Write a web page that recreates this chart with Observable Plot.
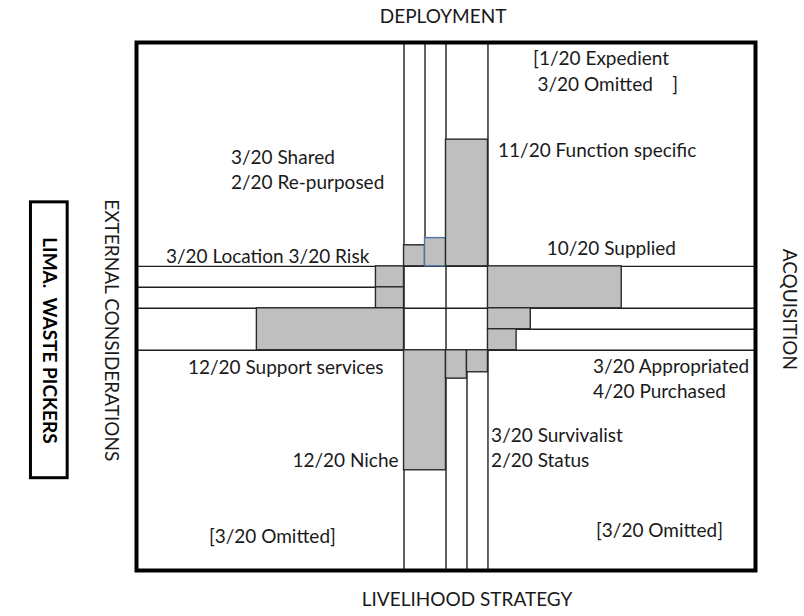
<!DOCTYPE html>
<html>
<head>
<meta charset="utf-8">
<script src="https://cdn.jsdelivr.net/npm/d3@7"></script>
<script src="https://cdn.jsdelivr.net/npm/@observablehq/plot@0.6"></script>
<style>
  html, body { margin: 0; padding: 0; background: #fff; }
  svg text { white-space: pre; }
</style>
</head>
<body>
<div id="chart"></div>
<script>
// ---------------- DATA ----------------
const total = 20;
const chartTitle = "LIMA.  WASTE PICKERS";
const armNames = ["DEPLOYMENT", "ACQUISITION", "LIVELIHOOD STRATEGY", "EXTERNAL CONSIDERATIONS"];

// Deployment (top arm)
const deploymentCategories = ["Shared", "Re-purposed", "Function specific"];
const deploymentCounts = [3, 2, 11];
const deploymentBars = [0.094, 0.126, 0.566];       // drawn bar length, share of arm
const deploymentNotes = ["[1/20 Expedient", "3/20 Omitted    ]"];

// Acquisition (right arm)
const acquisitionCategories = ["Supplied", "Appropriated", "Purchased"];
const acquisitionCounts = [10, 3, 4];
const acquisitionBars = [0.50, 0.16, 0.107];
const acquisitionNotes = ["[3/20 Omitted]"];

// Livelihood strategy (bottom arm)
const livelihoodCategories = ["Niche", "Survivalist", "Status"];
const livelihoodCounts = [12, 3, 2];
const livelihoodBars = [0.545, 0.129, 0.10];

// External considerations (left arm)
const externalCategories = ["Location", "Risk", "Support services"];
const externalCounts = [3, 3, 12];
const externalBars = [0.105, 0.105, 0.55];
const externalNotes = ["[3/20 Omitted]"];

// ---------------- LAYOUT ----------------
const armLen = {top: 10.67, right: 12.75, bottom: 10.5, left: 12.75};
const core = 4; // central cross size (units)

function lanes(counts) {
  const mx = Math.max(...counts);
  let acc = 0;
  return counts.map(c => { const a = acc; acc += (c === mx ? 2 : 1); return [a, acc]; });
}
const lab = (c, n) => `${c}/${total} ${n}`;

const topL = lanes(deploymentCounts), rightL = lanes(acquisitionCounts),
      botL = lanes(livelihoodCounts), leftL = lanes(externalCounts);

const bars = [];
deploymentCategories.forEach((n, i) => bars.push({name: n, x1: topL[i][0], x2: topL[i][1], y1: 0, y2: -deploymentBars[i] * armLen.top}));
acquisitionCategories.forEach((n, i) => bars.push({name: n, y1: rightL[i][0], y2: rightL[i][1], x1: core, x2: core + acquisitionBars[i] * armLen.right}));
livelihoodCategories.forEach((n, i) => bars.push({name: n, x1: botL[i][0], x2: botL[i][1], y1: core, y2: core + livelihoodBars[i] * armLen.bottom}));
externalCategories.forEach((n, i) => bars.push({name: n, y1: leftL[i][0], y2: leftL[i][1], x1: 0, x2: -externalBars[i] * armLen.left}));

const bounds = L => [L[0][0], ...L.map(d => d[1])];
const vLines = [], hLines = [];
bounds(topL).forEach(x => vLines.push({x, y1: -armLen.top, y2: 0}));
bounds(botL).forEach(x => vLines.push({x, y1: core, y2: core + armLen.bottom}));
[0, 2, 4].forEach(x => vLines.push({x, y1: 0, y2: core}));
bounds(leftL).forEach(y => hLines.push({y, x1: -armLen.left, x2: 0}));
bounds(rightL).forEach(y => hLines.push({y, x1: core, x2: core + armLen.right}));
[0, 2, 4].forEach(y => hLines.push({y, x1: 0, x2: core}));

const labels = [
  {text: deploymentNotes[0], x: 6.15, y: -9.87, a: "start"},
  {text: deploymentNotes[1], x: 6.36, y: -8.67, a: "start"},
  {text: lab(deploymentCounts[0], deploymentCategories[0]), x: -8.25, y: -5.15, a: "start"},
  {text: lab(deploymentCounts[1], deploymentCategories[1]), x: -8.25, y: -3.96, a: "start"},
  {text: lab(deploymentCounts[2], deploymentCategories[2]), x: 4.48, y: -5.48, a: "start"},
  {text: lab(externalCounts[0], externalCategories[0]) + " " + lab(externalCounts[1], externalCategories[1]), x: -11.35, y: -0.44, a: "start"},
  {text: lab(acquisitionCounts[0], acquisitionCategories[0]), x: 6.8, y: -0.81, a: "start"},
  {text: lab(externalCounts[2], externalCategories[2]), x: -10.3, y: 4.86, a: "start"},
  {text: lab(acquisitionCounts[1], acquisitionCategories[1]), x: 9.0, y: 4.81, a: "start"},
  {text: lab(acquisitionCounts[2], acquisitionCategories[2]), x: 9.0, y: 5.98, a: "start"},
  {text: lab(livelihoodCounts[1], livelihoodCategories[1]), x: 4.15, y: 8.1, a: "start"},
  {text: lab(livelihoodCounts[2], livelihoodCategories[2]), x: 4.15, y: 9.27, a: "start"},
  {text: lab(livelihoodCounts[0], livelihoodCategories[0]), x: -0.26, y: 9.27, a: "end"},
  {text: externalNotes[0], x: -9.3, y: 12.92, a: "start"},
  {text: acquisitionNotes[0], x: 9.15, y: 12.62, a: "start"}
];
const armTitles = [
  {text: armNames[0], x: 1.86, y: -11.87, r: 0},
  {text: armNames[1], x: 18.35, y: 2.05, r: 90},
  {text: armNames[2], x: 3.0, y: 15.92, r: 0},
  {text: armNames[3], x: -13.97, y: 3.05, r: 90}
];
const titleBox = [{x1: -17.78, x2: -16.03, y1: -3.05, y2: 10.1}];

const fs = 19;
const ink = "#1a1a1a";
const chart = Plot.plot({
  width: 804, height: 616,
  marginLeft: 136, marginRight: 49, marginTop: 42, marginBottom: 46,
  x: {domain: [-armLen.left, core + armLen.right], axis: null},
  y: {domain: [-armLen.top, core + armLen.bottom], reverse: true, axis: null},
  style: {fontFamily: "Lato, 'Open Sans', sans-serif", fontSize: fs + "px", color: ink, background: "#fff"},
  marks: [
    Plot.ruleX(vLines, {x: "x", y1: "y1", y2: "y2", stroke: "#1f1f1f", strokeWidth: 1.4}),
    Plot.ruleY(hLines, {y: "y", x1: "x1", x2: "x2", stroke: "#1f1f1f", strokeWidth: 1.4}),
    Plot.rect(bars, {x1: "x1", x2: "x2", y1: "y1", y2: "y2", fill: "#bfbfbf",
      stroke: d => d.name === "Re-purposed" ? "#4f72a8" : "#2a2a2a", strokeWidth: 1.4}),
    Plot.frame({stroke: "#000", strokeWidth: 4}),
    Plot.text(labels.filter(d => d.a === "start"), {x: "x", y: "y", text: "text", textAnchor: "start", fill: ink, fontSize: fs}),
    Plot.text(labels.filter(d => d.a === "end"), {x: "x", y: "y", text: "text", textAnchor: "end", fill: ink, fontSize: fs}),
    Plot.text(armTitles.filter(d => d.r === 0), {x: "x", y: "y", text: "text", fill: ink, fontSize: fs}),
    Plot.text(armTitles.filter(d => d.r === 90), {x: "x", y: "y", text: "text", rotate: 90, fill: ink, fontSize: fs}),
    Plot.rect(titleBox, {x1: "x1", x2: "x2", y1: "y1", y2: "y2", fill: "none", stroke: "#000", strokeWidth: 3}),
    Plot.text([chartTitle], {x: -16.9, y: 3.53, text: d => d, rotate: 90, fontWeight: "bold", fill: "#000", fontSize: fs})
  ]
});
document.getElementById("chart").appendChild(chart);
</script>
</body>
</html>
